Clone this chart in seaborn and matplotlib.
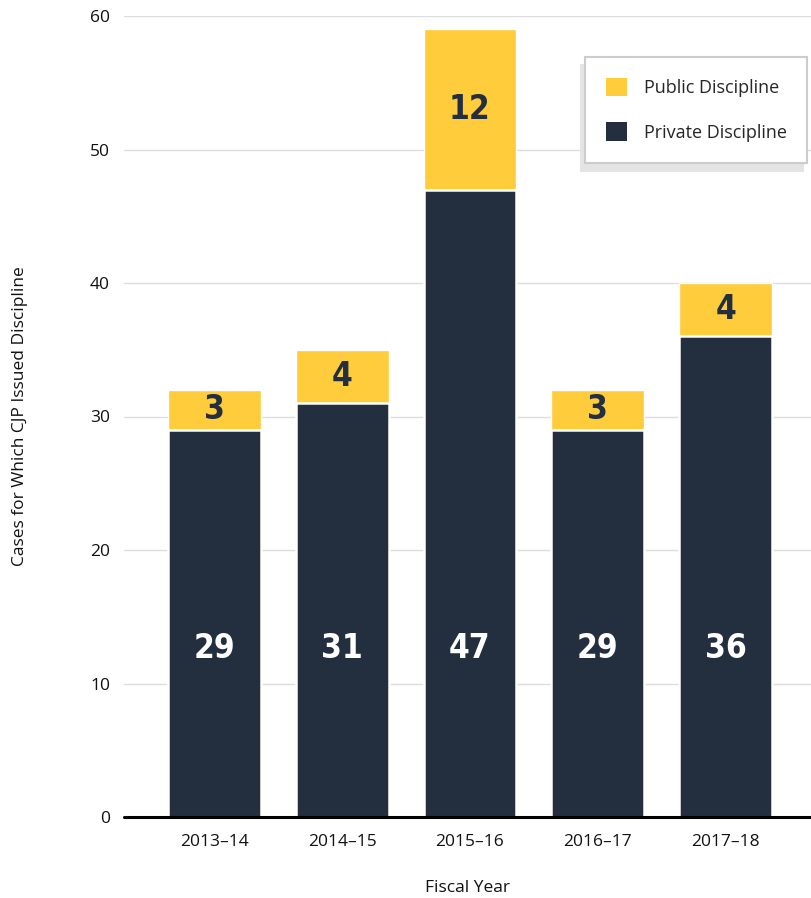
import pandas as pd
import seaborn as sns
import matplotlib.pyplot as plt

# data
years = ["2013–14", "2014–15", "2015–16", "2016–17", "2017–18"]
private = [29, 31, 47, 29, 36]
public = [3, 4, 12, 3, 4]

yellow = "#FFCC3B"
navy = "#232E3E"

df = pd.DataFrame({"year": years, "private": private, "public": public})
df["total"] = df["private"] + df["public"]

sns.set_theme(style="white")
plt.rcParams['font.family'] = ['Open Sans', 'DejaVu Sans']

fig = plt.figure(figsize=(8.12, 8.98), dpi=100)
ax = fig.add_axes([124 / 812, 81 / 898, 1 - 124 / 812, 801 / 898])

# public sits on top of private, so draw totals first then private over them
sns.barplot(data=df, x="year", y="total", color=yellow, saturation=1,
            width=0.727, ax=ax, zorder=2, label="Public Discipline")
sns.barplot(data=df, x="year", y="private", color=navy, saturation=1,
            width=0.727, ax=ax, zorder=3, edgecolor="white", linewidth=1.8,
            label="Private Discipline")

ax.set_ylim(0, 60)
ax.set_xlim(-0.707, 4.676)
ax.set_yticks(range(0, 61, 10))
ax.yaxis.grid(True, color="#dddddd", linewidth=1, zorder=0)
ax.set_axisbelow(True)
for s in ["top", "right", "left", "bottom"]:
    ax.spines[s].set_visible(False)
ax.axhline(0, color="black", linewidth=2.2, zorder=5, clip_on=False)
ax.tick_params(axis="both", length=0, labelsize=12.5, colors="#111111")
ax.tick_params(axis="y", pad=10)
ax.tick_params(axis="x", pad=12)

ax.set_xlabel("Fiscal Year", fontsize=12.5, labelpad=22, color="#111111")
ax.set_ylabel("Cases for Which CJP Issued Discipline", fontsize=12.5,
              labelpad=45, color="#111111")

for i, row in df.iterrows():
    ax.text(i, 12.6, str(row["private"]), ha="center", va="center",
            color="white", fontsize=24, fontweight="semibold",
            family="DejaVu Sans", fontstretch="condensed", zorder=6)
    ax.text(i, row["private"] + row["public"] / 2, str(row["public"]),
            ha="center", va="center", color=navy, fontsize=24,
            fontweight="semibold", family="DejaVu Sans",
            fontstretch="condensed", zorder=6)

handles, labels = ax.get_legend_handles_labels()
leg = ax.legend(handles, labels,
                loc="upper left", bbox_to_anchor=(585 / 812, 1 - 57 / 898),
                bbox_transform=fig.transFigure, borderaxespad=0,
                fontsize=13, frameon=True, fancybox=False,
                shadow={"ox": -3, "oy": -6, "facecolor": "#e4e4e4",
                        "edgecolor": "#e4e4e4", "alpha": 1},
                handlelength=1.2, handleheight=1.2, handletextpad=0.9,
                labelspacing=1.4, borderpad=1.15)
leg.get_frame().set_edgecolor("#cccccc")
leg.get_frame().set_linewidth(1.5)
for h in leg.legend_handles:
    h.set_edgecolor("none")

fig.savefig("out.png", dpi=100)
